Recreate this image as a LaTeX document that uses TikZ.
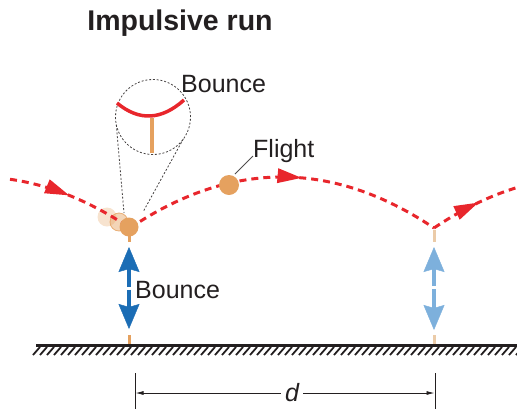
\documentclass[tikz,border=0pt]{standalone}
\usepackage{fontspec}
\setmainfont{Liberation Sans}
\usetikzlibrary{arrows.meta,decorations.markings}
\definecolor{trajred}{HTML}{E8262C}
\definecolor{ballorange}{HTML}{E5A15F}
\definecolor{lighttan}{HTML}{EBCBA8}
\definecolor{darkblue}{HTML}{1B6DB5}
\definecolor{lightblue}{HTML}{7DB0DC}
\definecolor{txt}{HTML}{231F20}
\tikzset{
  traj/.style={draw=trajred, line width=3pt, dash pattern=on 7pt off 5pt},
  trajarrow/.style={decoration={markings, mark=at position #1 with {\fill[trajred] (0pt,0pt) -- (-24pt,7.5pt) -- (-24pt,-7.5pt) -- cycle;}}, postaction={decorate}},
  ball/.style={circle, fill=ballorange, minimum size=19pt, inner sep=0pt},
  lbl/.style={font=\fontsize{25}{30}\selectfont, text=txt, inner sep=0pt, anchor=base west},
  zoomline/.style={draw=txt!85, line width=0.8pt, dash pattern=on 2pt off 1.8pt},
  bouncearrow/.style={line width=4.5pt, -{Stealth[length=25pt,width=21pt,inset=3pt,line width=0.4pt]}},
  groundtick/.style={line width=3pt},
  hatch/.style={line width=1.8pt, txt},
  dim/.style={line width=0.8pt, txt}
}
\begin{document}
\begin{tikzpicture}[x=1pt,y=-1pt]
\useasboundingbox (0,0) rectangle (517,416);
% title
\node[font=\fontsize{28.5}{34}\bfseries, text=txt, inner sep=0pt, anchor=base] (title) at (180,30) {Impulsive run};
% ground
\coordinate (gL) at (36,345.5);
\coordinate (gR) at (517,345.5);
\draw[line width=3pt, txt] (gL) -- (gR);
\foreach \i in {0,...,69} \draw[hatch] (33+7*\i,355) -- (40+7*\i,347);
% ghost balls
\node[ball, fill opacity=0.3] (ghostA) at (107,217) {};
\node[ball, fill opacity=0.45, draw=ballorange, draw opacity=0.8, line width=0.8pt, minimum size=18pt] (ghostB) at (119,222) {};
% trajectory
\draw[traj, trajarrow=0.47] plot[domain=10:130, samples=60] (\x, {177+((\x+22)*0.04698)^2});
\draw[traj, trajarrow=0.56] plot[domain=130:434, samples=120] (\x, {177+((\x-282)*0.04698)^2});
\draw[traj, trajarrow=0.55] plot[domain=434:517, samples=50] (\x, {177+((\x-586)*0.04698)^2});
% balls
\node[ball] (mainball) at (129,227) {};
\node[ball, minimum size=20pt] (flightball) at (229,185) {};
% zoom circle
\node[circle, minimum size=75pt, inner sep=0pt, zoomline] (zoomc) at (153,117) {};
\coordinate (tanL) at (116.3,124.8);
\coordinate (tanR) at (183.3,139);
\coordinate (footL) at (124,213);
\coordinate (footR) at (143,212);
\draw[zoomline] (tanL) -- (footL);
\draw[zoomline] (tanR) -- (footR);
\coordinate (arcL) at (117,103);
\coordinate (arcR) at (184,100);
\draw[trajred, line width=3.5pt] (arcL) .. controls (139,121.3) and (161.3,120.3) .. (arcR);
\coordinate (stemT) at (152,118);
\coordinate (stemB) at (152,153);
\draw[ballorange, line width=3.5pt] (stemT) -- (stemB);
% labels
\node[lbl] (bounceTop) at (181,92) {Bounce};
\node[lbl] (flightlbl) at (253,157) {Flight};
\coordinate (leadA) at (235,174);
\coordinate (leadB) at (253,156);
\draw[line width=0.8pt, txt!80] (leadA) -- (leadB);
% left bounce arrows
\coordinate (lA) at (129,287);
\coordinate (lAt) at (129,247);
\coordinate (lB) at (129,289.5);
\coordinate (lBt) at (129,329);
\draw[bouncearrow, darkblue] (lA) -- (lAt);
\draw[bouncearrow, darkblue] (lB) -- (lBt);
\draw[groundtick, ballorange] (129,236) -- (129,242);
\draw[groundtick, ballorange] (129,335) -- (129,343.5);
\node[lbl] (bounceLow) at (135,298) {Bounce};
% right bounce arrows
\coordinate (rA) at (434,286);
\coordinate (rAt) at (434,247);
\coordinate (rB) at (434,289);
\coordinate (rBt) at (434,330);
\draw[bouncearrow, lightblue] (rA) -- (rAt);
\draw[bouncearrow, lightblue] (rB) -- (rBt);
\draw[groundtick, lighttan] (434,230) -- (434,242);
\draw[groundtick, lighttan] (434,335) -- (434,343.5);
% dimension
\coordinate (tickLt) at (135,373);
\coordinate (tickLb) at (135,409);
\coordinate (tickRt) at (435,373);
\coordinate (tickRb) at (435,409);
\draw[dim] (tickLt) -- (tickLb);
\draw[dim] (tickRt) -- (tickRb);
\node[font=\fontsize{25}{30}\itshape, text=txt, inner sep=4pt] (dlbl) at (292,393) {d};
\coordinate (dimL) at (135.5,393);
\coordinate (dimR) at (434.5,393);
\draw[dim, -{Latex[length=8pt,width=4pt]}] (dlbl.west) -- (dimL);
\draw[dim, -{Latex[length=8pt,width=4pt]}] (dlbl.east) -- (dimR);
\end{tikzpicture}
\end{document}
